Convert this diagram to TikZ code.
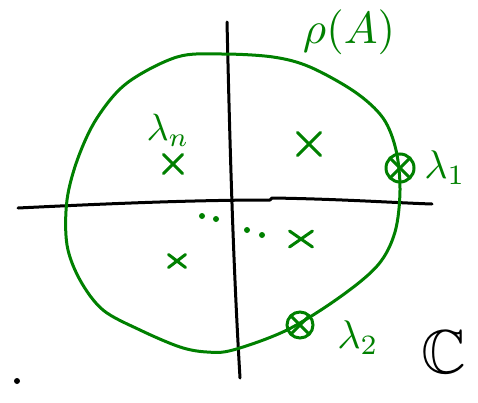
\documentclass[tikz,border=0pt]{standalone}
\usepackage{graphicx}
\usepackage{amssymb}
\usetikzlibrary{shapes.misc}
\definecolor{grn}{RGB}{0,128,0}
\tikzset{
  axisline/.style={black, line width=3pt, line cap=round, line join=round},
  specline/.style={grn, line width=3pt, line cap=round, line join=round},
  eigx/.style={cross out, draw=grn, line width=3pt, line cap=round, inner sep=0pt, minimum width=#1, minimum height=#1},
  ring/.style={circle, draw=grn, line width=3pt, inner sep=0pt, minimum size=28pt},
  lbl/.style={text=grn, inner sep=0pt},
  greendot/.style={circle, fill=grn, inner sep=0pt, minimum width=6pt},
}
\begin{document}
\begin{tikzpicture}[x=1pt,y=-1pt]
\useasboundingbox (0,0) rectangle (478,402);
% axes
\coordinate (xl) at (18,208);
\coordinate (xk) at (272,198);
\coordinate (xr) at (432,204);
\coordinate (yt) at (227,22);
\coordinate (yb) at (240,378);
\draw[axisline] (xl) .. controls (120,203) and (200,200) .. (270,200) -- (xk) .. controls (340,199) and (400,203) .. (xr);
\draw[axisline] (yt) .. controls (230,150) and (233,260) .. (yb);
% spectrum boundary
\draw[specline] plot[smooth cycle, tension=0.55] coordinates {
 (67,200) (78,158) (97,118) (127,83) (177,57) (222,54) (273,57) (310,67)
 (355,92) (383,118) (396,150) (400,190) (395,232) (378,265) (340,297)
 (287,330) (233,350) (207,352) (180,347) (140,330) (103,310) (80,280) (67,245)};
% eigenvalues
\node[eigx=20pt] (e1) at (309,144) {};
\node[eigx=16pt] (en) at (173,164) {};
\node[eigx=14pt, minimum height=10pt] (e3) at (177,261) {};
\node[eigx=20pt, minimum height=13pt] (e4) at (301,239) {};
\node[ring] (r1) at (400,168) {};
\node[eigx=17pt] (x1) at (400,168) {};
\node[ring, minimum size=26pt] (r2) at (300,325) {};
\node[eigx=15pt] (x2) at (300,325) {};
% dots
\node[greendot] (d1) at (202,216) {};
\node[greendot] (d2) at (216,219) {};
\node[greendot] (d3) at (247,230) {};
\node[greendot] (d4) at (262,235) {};
% labels
\node[lbl] (l1) at (445,168) {\scalebox{4}{$\lambda_1$}};
\node[lbl] (l2) at (358,338) {\scalebox{4}{$\lambda_2$}};
\node[lbl] (ln) at (168,130) {\scalebox{3.8}{$\lambda_n$}};
\node[lbl] (rho) at (349,32) {\scalebox{4.5}{$\rho(A)$}};
\node[inner sep=0pt] (C) at (444,352) {\scalebox{6.2}{$\mathbb{C}$}};
\node[circle, fill=black, inner sep=0pt, minimum width=6pt] (pt) at (17,381) {};
\end{tikzpicture}
\end{document}
